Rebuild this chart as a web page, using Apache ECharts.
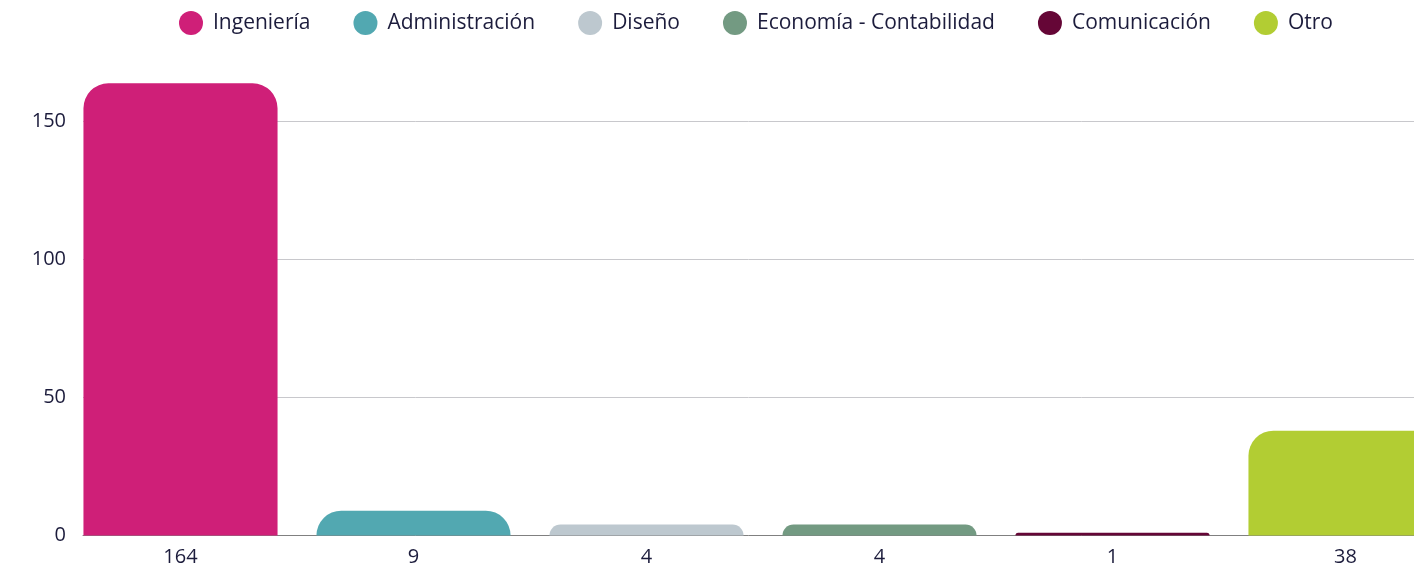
<!DOCTYPE html>
<html>
<head>
<meta charset="utf-8">
<script src="https://cdn.jsdelivr.net/npm/echarts@6/dist/echarts.min.js"></script>
<style>
html,body{margin:0;padding:0;background:#fff;overflow:hidden;}
#wrap{width:1414px;height:571px;overflow:hidden;}
#chart{width:1462px;height:571px;}
</style>
</head>
<body>
<div id="wrap"><div id="chart"></div></div>
<script>
const categories = ['Ingeniería', 'Administración', 'Diseño', 'Economía - Contabilidad', 'Comunicación', 'Otro'];
const values = [164, 9, 4, 4, 1, 38];
const colors = ['#CF1F78', '#52A8B1', '#BDC8CF', '#739A82', '#650636', '#B2CD33'];
const yTicks = [0, 50, 100, 150];

const FONT = '"Open Sans", sans-serif';
const TEXT = '#1c1c3c';

const series = categories.map((name, i) => ({
  name: name,
  type: 'bar',
  xAxisIndex: 0,
  yAxisIndex: 0,
  barGap: '-100%',
  barCategoryGap: '16.7%',
  itemStyle: { color: colors[i], borderRadius: [25, 25, 0, 0] },
  data: values.map((v, j) => (j === i ? v : '-')),
  z: 3
}));

const chart = echarts.init(document.getElementById('chart'));
chart.setOption({
  animation: false,
  backgroundColor: '#fff',
  color: colors,
  legend: {
    top: 6,
    left: 174,
    icon: 'circle',
    itemWidth: 24,
    itemHeight: 24,
    itemGap: 43,
    textStyle: { fontFamily: FONT, fontSize: 21, color: TEXT, padding: [0, 0, 0, 5] },
    data: categories
  },
  grid: [
    { left: 64, right: 0, top: 83.3, bottom: 35.5, containLabel: false },
    { left: 83, right: 48, top: 121.7, bottom: 35.5, containLabel: false }
  ],
  xAxis: [
    {
      type: 'category',
      gridIndex: 0,
      data: values.map(v => String(v)),
      axisLine: { show: false },
      axisTick: { show: false },
      axisLabel: { fontFamily: FONT, fontSize: 20, color: TEXT, margin: 12 },
      splitLine: { show: false }
    },
    {
      type: 'category',
      gridIndex: 1,
      data: categories,
      axisLine: { show: true, lineStyle: { color: '#808080', width: 1 } },
      axisTick: { show: false },
      axisLabel: { show: false },
      splitLine: { show: false }
    }
  ],
  yAxis: [
    {
      type: 'value',
      gridIndex: 0,
      min: 0,
      max: 164,
      axisLine: { show: false },
      axisTick: { show: false },
      axisLabel: { show: false },
      splitLine: { show: false }
    },
    {
      type: 'value',
      gridIndex: 1,
      min: yTicks[0],
      max: yTicks[yTicks.length - 1],
      interval: 50,
      axisLine: { show: false },
      axisTick: { show: false },
      axisLabel: { fontFamily: FONT, fontSize: 20, color: TEXT, margin: 17, padding: [4, 0, 0, 0] },
      splitLine: { show: true, lineStyle: { color: '#c8c8cc', width: 1 } }
    }
  ],
  series: series
});
</script>
</body>
</html>
